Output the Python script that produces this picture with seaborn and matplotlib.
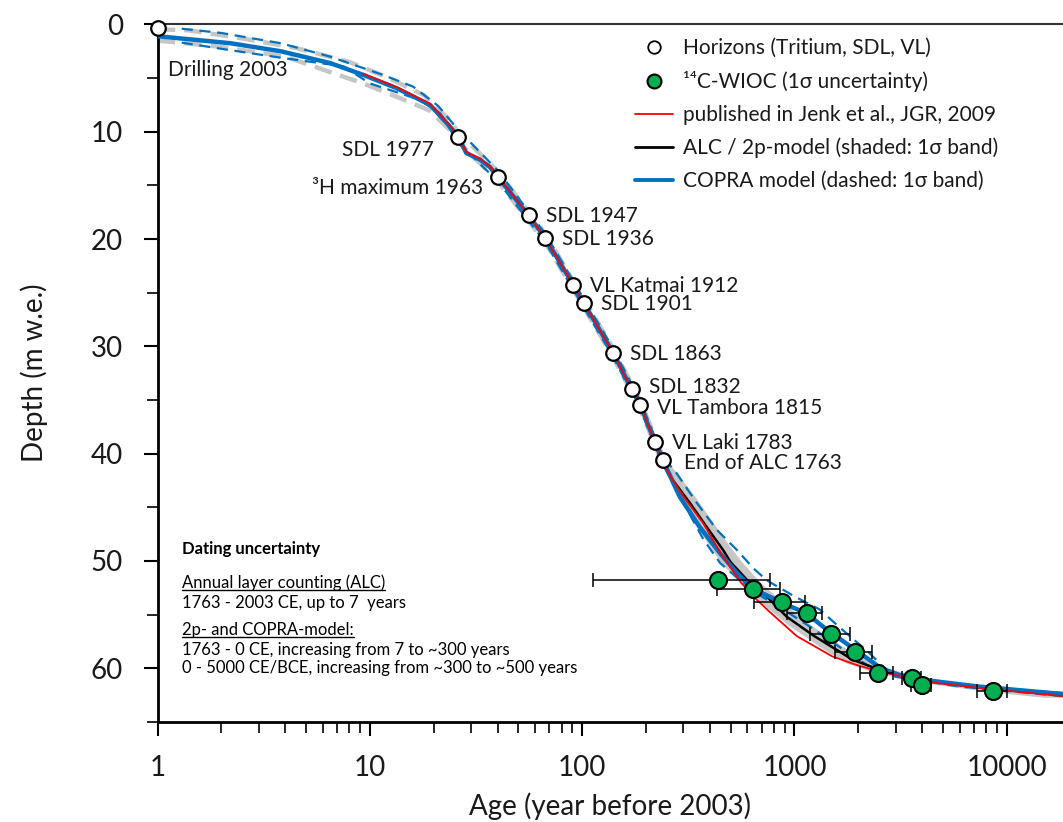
import matplotlib
matplotlib.use("Agg")
import numpy as np
import seaborn as sns
from matplotlib import pyplot as plt
from matplotlib.lines import Line2D
from matplotlib.ticker import FuncFormatter, NullFormatter, LogLocator, MultipleLocator

# ---- horizons (age in years before 2003, depth in m w.e.)
hor_labels = ["Drilling 2003", "SDL 1977", "\u00b3H maximum 1963", "SDL 1947", "SDL 1936",
              "VL Katmai 1912", "SDL 1901", "SDL 1863", "SDL 1832", "VL Tambora 1815",
              "VL Laki 1783", "End of ALC 1763"]
hor_age = [1, 26, 40, 56, 67, 91, 102, 140, 171, 188, 220, 240]
hor_depth = [0.35, 10.45, 14.2, 17.8, 19.9, 24.3, 26.0, 30.6, 34.0, 35.5, 38.9, 40.6]

# ---- 14C-WIOC ages with 1 sigma range
wioc_age = [438, 640, 877, 1143, 1483, 1928, 2484, 3572, 3983, 8650]
wioc_lo = [113, 433, 646, 920, 1183, 1553, 2038, 3200, 3550, 7230]
wioc_hi = [767, 855, 1122, 1345, 1828, 2311, 2917, 3950, 4400, 10000]
wioc_depth = [51.8, 52.6, 53.85, 54.8, 56.8, 58.5, 60.4, 60.9, 61.6, 62.1]

# ---- annual layer counted part (shared by all age models)
alc_age = [1, 2.2, 3.8, 6.5, 9.3, 13.4, 19.2, 23.8, 26, 28.5, 33, 36.6, 40, 56, 67, 91,
           102, 140, 171, 188, 220, 240]
alc_depth = [1.1, 1.75, 2.5, 3.6, 4.7, 5.95, 7.5, 9.5, 10.45, 12.0, 12.6, 13.25, 14.2, 17.8,
             19.9, 24.3, 26.0, 30.6, 34.0, 35.5, 38.9, 40.6]

# ---- model tails below the ALC part
twop_age = [259, 322, 385, 462, 500, 600, 740, 920, 1240, 1880, 2560, 4800, 7400, 18400]
twop_depth = [42.1, 44.6, 46.8, 49.0, 50.1, 51.8, 53.3, 55.2, 57.0, 59.2, 60.2, 61.3, 61.8, 62.5]

jenk_age = [9.3, 13.4, 19.2, 23.8, 26, 28.5, 33, 36.6, 40, 56, 67, 91, 102, 140, 171, 188,
            220, 240, 255, 300, 372, 450, 500, 560, 640, 760, 1025, 1510, 1968, 2620, 4800,
            8000, 18400]
jenk_depth = [4.6, 5.85, 7.4, 9.4, 10.4, 11.9, 12.5, 13.2, 14.1, 17.8, 19.9, 24.3, 26.0, 30.6,
              34.0, 35.5, 38.9, 40.6, 41.8, 44.0, 46.5, 49.3, 50.6, 52.0, 53.3, 54.7, 57.0,
              58.9, 59.7, 60.4, 61.4, 61.9, 62.6]

copra_age = [288, 357, 447, 540, 640, 877, 1143, 1420, 2040, 2560, 3390, 7400, 18400]
copra_depth = [44.0, 46.8, 49.3, 51.2, 52.6, 53.9, 54.9, 56.4, 58.6, 60.0, 60.9, 61.7, 62.4]

# COPRA 1 sigma (dashed)
copra_hi_age = [1.3, 2.0, 3.8, 6.5, 11.5, 16, 21, 26, 40, 67, 102, 140, 188, 240, 278, 347,
                431, 537, 642, 740, 1000, 1310, 1680, 2260, 2720, 4000, 8000, 18400]
copra_hi_depth = [0.4, 0.8, 1.75, 3.0, 4.7, 5.8, 7.6, 9.8, 13.6, 19.5, 25.6, 30.2, 35.1, 40.3,
                  41.8, 44.6, 47.1, 49.0, 50.7, 51.8, 53.3, 54.5, 56.4, 58.6, 60.2, 61.2, 61.8,
                  62.3]
copra_lo_age = [1.3, 2.2, 3.8, 7.5, 10, 17, 21.5, 26, 40, 67, 102, 140, 188, 240, 300, 373,
                447, 540, 700, 900, 1200, 1600, 2200, 3000, 6000, 18400]
copra_lo_depth = [1.7, 2.4, 3.1, 3.9, 5.5, 7.0, 8.3, 11.0, 14.6, 20.3, 26.4, 31.0, 35.9, 41.0,
                  44.6, 48.0, 50.2, 51.6, 53.3, 54.6, 56.2, 57.9, 59.7, 60.8, 61.7, 62.6]

# ALC 1 sigma (grey dashed) and 2p-model 1 sigma band (grey shading)
alcs_hi_age = [1, 1.4, 2.5, 4.5, 8, 12, 18, 24, 26, 40, 67, 102, 140, 188, 240]
alcs_hi_depth = [0.45, 0.55, 1.3, 2.2, 3.5, 4.9, 6.6, 9.0, 10.0, 13.7, 19.5, 25.6, 30.2, 35.1, 40.3]
alcs_lo_age = [1, 2, 4, 9.3, 14, 19, 24, 26, 40, 67, 102, 140, 188, 240]
alcs_lo_depth = [1.5, 2.1, 3.0, 5.5, 6.9, 8.0, 9.9, 10.9, 14.6, 20.3, 26.4, 31.0, 35.9, 41.0]
band_depth = [40.6, 44, 48, 50, 52, 54, 56, 58, 59.5, 60.5, 61.5, 62.2, 62.7]
band_young = [232, 280, 380, 445, 550, 710, 940, 1320, 1750, 2500, 4600, 8500, 15000]
band_old = [250, 340, 470, 560, 690, 900, 1200, 1700, 2300, 3400, 6500, 12500, 22000]

BLUE = "#0070c0"
GREEN = "#00b050"
GREY = "#c6c6c6"

sns.set_theme(style="ticks")
plt.rcParams["font.family"] = ["Lato", "DejaVu Sans"]

fig = plt.figure(figsize=(10.63, 8.22), dpi=100)
ax = fig.add_axes([0.1482, 0.1217, 0.8518, 0.8486])

# grey ALC / 2p uncertainty
ax.fill_betweenx(band_depth, band_young, band_old, color=GREY, lw=0, zorder=1)
for a, d in [(alcs_hi_age, alcs_hi_depth), (alcs_lo_age, alcs_lo_depth)]:
    ax.plot(a, d, color=GREY, lw=3.2, ls=(0, (4, 2)), zorder=1.5)

# COPRA 1 sigma
for a, d in [(copra_hi_age, copra_hi_depth), (copra_lo_age, copra_lo_depth)]:
    ax.plot(a, d, color=BLUE, lw=1.6, ls=(0, (5, 3)), zorder=2)

# model curves
sns.lineplot(x=alc_age + twop_age, y=alc_depth + twop_depth, sort=False, estimator=None,
             color="black", lw=1.8, ax=ax, zorder=3)
sns.lineplot(x=alc_age + copra_age, y=alc_depth + copra_depth, sort=False, estimator=None,
             color=BLUE, lw=3.2, ax=ax, zorder=4)
sns.lineplot(x=jenk_age, y=jenk_depth, sort=False, estimator=None,
             color="red", lw=1.3, ax=ax, zorder=4.5)

# 14C points
xerr = [np.subtract(wioc_age, wioc_lo), np.subtract(wioc_hi, wioc_age)]
ax.errorbar(wioc_age, wioc_depth, xerr=xerr, fmt="none", ecolor="black", elinewidth=1.1,
            capsize=5, capthick=1.1, zorder=5)
sns.scatterplot(x=wioc_age, y=wioc_depth, color=GREEN, edgecolor="black", linewidth=1.5,
                s=150, ax=ax, zorder=6)

# horizons
sns.scatterplot(x=hor_age, y=hor_depth, color="white", edgecolor="black", linewidth=1.6,
                s=110, ax=ax, zorder=7, clip_on=False)

offsets = {"Drilling 2003": (10, -42, "left"), "SDL 1977": (-24, -13, "right"),
           "\u00b3H maximum 1963": (-15, -11, "right"), "SDL 1832": (17, 2, "left"),
           "VL Tambora 1815": (17, -3, "left"), "End of ALC 1763": (21, -3, "left")}
for lab, a, d in zip(hor_labels, hor_age, hor_depth):
    dx, dy, ha = offsets.get(lab, (17, -1, "left"))
    ax.annotate(lab, (a, d), xytext=(dx, dy), textcoords="offset pixels", ha=ha, va="center",
                fontsize=15, color="#1a1a1a", zorder=8)

# axes
ax.set_xscale("log")
ax.set_xlim(1, 18400)
ax.set_ylim(65, 0)
ax.xaxis.set_major_locator(LogLocator(base=10, numticks=10))
ax.xaxis.set_minor_locator(LogLocator(base=10, subs=np.arange(2, 10), numticks=20))
ax.xaxis.set_major_formatter(FuncFormatter(lambda v, p: f"{v:g}"))
ax.xaxis.set_minor_formatter(NullFormatter())
ax.yaxis.set_major_locator(MultipleLocator(10))
ax.yaxis.set_minor_locator(MultipleLocator(5))
ax.tick_params(axis="both", which="major", direction="out", length=10, width=1.5,
               labelsize=20, color="black", labelcolor="#1a1a1a")
ax.tick_params(axis="both", which="minor", direction="out", length=8, width=1.2, color="black")
ax.tick_params(axis="y", which="major", pad=15)
ax.tick_params(axis="x", which="major", pad=14)
for s in ["left", "bottom"]:
    ax.spines[s].set_linewidth(2)
    ax.spines[s].set_color("black")
ax.spines["top"].set_linewidth(1.5)
ax.spines["top"].set_color("#333333")
ax.spines["right"].set_visible(False)
ax.set_xlabel("Age (year before 2003)", fontsize=20, color="#1a1a1a", labelpad=8)
ax.set_ylabel("Depth (m w.e.)", fontsize=20, color="#1a1a1a", labelpad=31)

# legend
handles = [
    Line2D([], [], ls="none", marker="o", ms=9, mfc="white", mec="black", mew=1.3),
    Line2D([], [], ls="none", marker="o", ms=10, mfc=GREEN, mec="black", mew=1.5),
    Line2D([], [], color="red", lw=1.3),
    Line2D([], [], color="black", lw=2),
    Line2D([], [], color=BLUE, lw=2.8),
]
labels = ["Horizons (Tritium, SDL, VL)", "\u00b9\u2074C-WIOC (1\u03c3 uncertainty)",
          "published in Jenk et al., JGR, 2009", "ALC / 2p-model (shaded: 1\u03c3 band)",
          "COPRA model (dashed: 1\u03c3 band)"]
fig.legend(handles, labels, loc="upper left", bbox_to_anchor=(635 / 1063, 1 - 38 / 822),
           frameon=False, fontsize=15, handlelength=1.8, handletextpad=0.5,
           labelspacing=0.62, borderpad=0, borderaxespad=0, labelcolor="#1a1a1a")

# dating uncertainty note
W, H = 1063, 822
fig.text(182 / W, 1 - 549 / H, "Dating uncertainty", fontsize=12, fontweight="bold",
         va="center", color="black")
note = [("Annual layer counting (ALC)", 583, True), ("1763 - 2003 CE, up to 7  years", 603, False),
        ("2p- and COPRA-model:", 630, True), ("1763 - 0 CE, increasing from 7 to ~300 years", 650, False),
        ("0 - 5000 CE/BCE, increasing from ~300 to ~500 years", 668, False)]
texts = []
for s, yy, und in note:
    t = fig.text(182 / W, 1 - yy / H, s, fontsize=12, va="center", color="black")
    texts.append((t, und))

fig.canvas.draw()
r = fig.canvas.get_renderer()
for t, und in texts:
    if und:
        bb = t.get_window_extent(r)
        fig.add_artist(Line2D([bb.x0 / W, bb.x1 / W], [(bb.y0 + 1) / H, (bb.y0 + 1) / H],
                              transform=fig.transFigure, color="black", lw=1))

fig.savefig("out.png", dpi=100)
